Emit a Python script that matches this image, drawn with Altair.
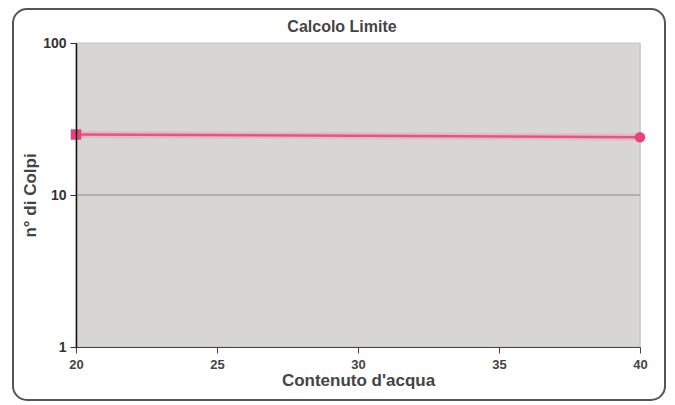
import altair as alt
import pandas as pd

contenuto = [20, 40]
colpi = [25, 24]
shapes = ["square", "circle"]
grid_values = [10]

df = pd.DataFrame({"acqua": contenuto, "colpi": colpi, "shape": shapes})
gdf = pd.DataFrame({"g": grid_values})

W, H = 564, 304

frame = alt.Chart(pd.DataFrame({"a": [0]})).mark_rect(
    fillOpacity=0, stroke="#555555", strokeWidth=2, cornerRadius=14, clip=False
).encode(
    x=alt.value(-63), x2=alt.value(589), y=alt.value(-34), y2=alt.value(357)
)

plotbg = alt.Chart(pd.DataFrame({"a": [0]})).mark_rect(
    fill="#d7d6d4", stroke="#c4c4c4", strokeWidth=1
).encode(
    x=alt.value(0), x2=alt.value(W), y=alt.value(0), y2=alt.value(H)
)

title = alt.Chart(pd.DataFrame({"t": ["Calcolo Limite"]})).mark_text(
    font="Liberation Sans", fontSize=16, fontWeight="bold", color="#444444",
    align="center", baseline="alphabetic", clip=False
).encode(text="t:N", x=alt.value(266), y=alt.value(-11))

xs = alt.X("acqua:Q",
           scale=alt.Scale(domain=[20, 40], nice=False, zero=False),
           axis=alt.Axis(values=[20, 25, 30, 35, 40], title="Contenuto d'acqua",
                         grid=False, domainColor="#444444", tickColor="#444444",
                         labelColor="#444444", titleColor="#444444",
                         labelFont="Liberation Sans", titleFont="Liberation Sans",
                         labelFontSize=13, labelFontWeight="bold", labelFlush=False,
                         titleFontSize=17, titleFontWeight="bold",
                         tickSize=6, labelPadding=5, titlePadding=1, zindex=1))
ys = alt.Y("colpi:Q",
           scale=alt.Scale(type="log", domain=[1, 100], nice=False),
           axis=alt.Axis(values=[1, 10, 100], title="n° di Colpi", format="d",
                         grid=False,
                         domainColor="#111111", domainWidth=1.5, tickColor="#333333",
                         labelColor="#333333", titleColor="#444444",
                         labelFont="Liberation Sans", titleFont="Liberation Sans",
                         labelFontSize=14, labelFontWeight="bold", labelFlush=False,
                         titleFontSize=17, titleFontWeight="bold",
                         tickSize=6, labelPadding=4, titlePadding=3, zindex=1))

gridline = alt.Chart(gdf).mark_rule(color="#8a8a8a", strokeWidth=1).encode(
    y=alt.Y("g:Q", scale=alt.Scale(type="log", domain=[1, 100], nice=False))
)

line = alt.Chart(df).mark_line(color="#e8547e", strokeWidth=2.5).encode(x=xs, y=ys)
glow = alt.Chart(df).mark_line(color="#f0a0b8", strokeWidth=7, opacity=0.5).encode(x=xs, y=ys)
pts = alt.Chart(df).mark_point(filled=True, color="#e8447a", size=110, opacity=1).encode(
    x=xs, y=ys,
    shape=alt.Shape("shape:N", scale=alt.Scale(domain=shapes, range=["square", "circle"]), legend=None)
)

chart = alt.layer(frame, plotbg, title, gridline, glow, line, pts).properties(
    width=W, height=H,
    autosize=alt.AutoSizeParams(type="none"),
    padding={"left": 68, "top": 35, "right": 27, "bottom": 60},
).configure_view(stroke=None).configure(background="white")

chart.save("out.html", embed_options={"renderer": "svg", "actions": False})
